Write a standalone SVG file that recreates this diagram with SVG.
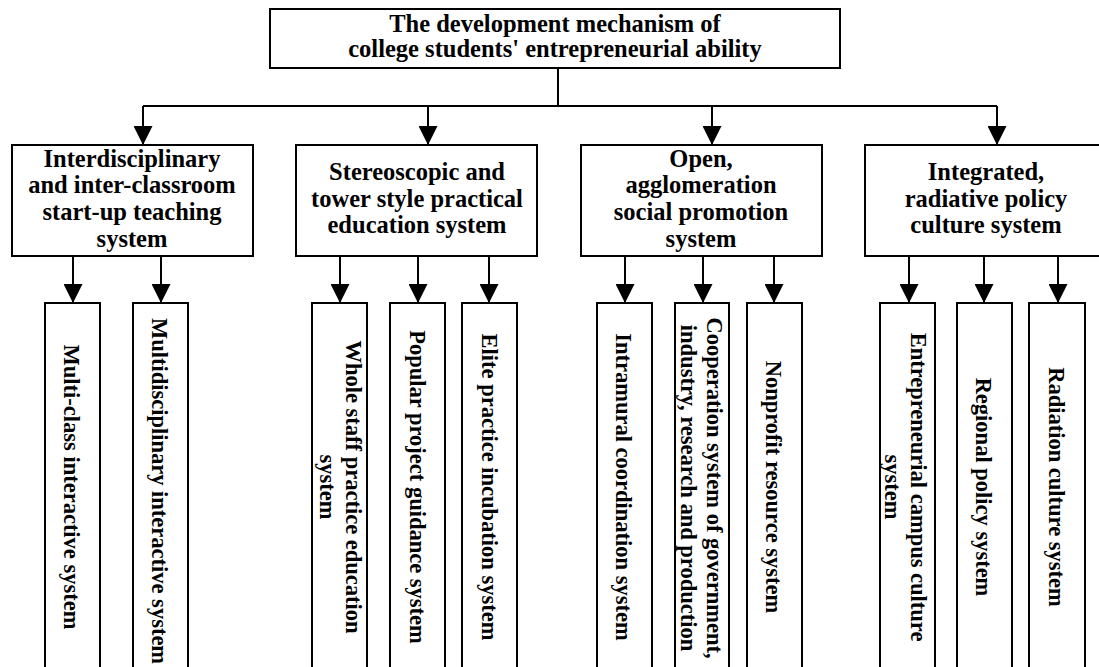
<svg xmlns="http://www.w3.org/2000/svg" width="1099" height="667" viewBox="0 0 1099 667">
<defs>
<style>
.box{fill:#fff;stroke:#000;stroke-width:2}
.t{font-family:"Liberation Serif","Times New Roman",serif;font-weight:bold;font-size:24.5px;fill:#000;text-anchor:middle}
.v{font-family:"Liberation Serif","Times New Roman",serif;font-weight:bold;font-size:22.5px;fill:#000;text-anchor:middle}
.c{fill:none;stroke:#000;stroke-width:2}
</style>
<marker id="ah" markerUnits="userSpaceOnUse" markerWidth="19" markerHeight="19" refX="19" refY="9.5" orient="auto" viewBox="0 0 19 19">
<path d="M0,0 L19,9.5 L0,19 z" fill="#000"/>
</marker>
</defs>
<rect width="1099" height="667" fill="#fff"/>
<g id="connectors">
<path class="c" d="M558,68 V106 M143,106 H997"/>
<path class="c" d="M143,106 V145" marker-end="url(#ah)"/>
<path class="c" d="M428,106 V145" marker-end="url(#ah)"/>
<path class="c" d="M712,106 V145" marker-end="url(#ah)"/>
<path class="c" d="M997,106 V145" marker-end="url(#ah)"/>
<path class="c" d="M73,256 V303" marker-end="url(#ah)"/>
<path class="c" d="M161,256 V303" marker-end="url(#ah)"/>
<path class="c" d="M340,256 V303" marker-end="url(#ah)"/>
<path class="c" d="M418,256 V303" marker-end="url(#ah)"/>
<path class="c" d="M489,256 V303" marker-end="url(#ah)"/>
<path class="c" d="M625,256 V303" marker-end="url(#ah)"/>
<path class="c" d="M703,256 V303" marker-end="url(#ah)"/>
<path class="c" d="M774,256 V303" marker-end="url(#ah)"/>
<path class="c" d="M909,256 V303" marker-end="url(#ah)"/>
<path class="c" d="M984,256 V303" marker-end="url(#ah)"/>
<path class="c" d="M1058,256 V303" marker-end="url(#ah)"/>
</g>
<g id="root">
<rect class="box" x="270" y="9" width="570" height="59"/>
<text class="t" x="555" y="32">The development mechanism of</text>
<text class="t" x="555" y="57">college students' entrepreneurial ability</text>
</g>
<g id="cat1">
<rect class="box" x="12" y="145" width="241" height="111"/>
<text class="t" x="132" y="167">Interdisciplinary</text>
<text class="t" x="132" y="193">and inter-classroom</text>
<text class="t" x="132" y="220">start-up teaching</text>
<text class="t" x="132" y="247">system</text>
</g>
<g id="cat2">
<rect class="box" x="296" y="145" width="241" height="111"/>
<text class="t" x="417" y="180">Stereoscopic and</text>
<text class="t" x="417" y="207">tower style practical</text>
<text class="t" x="417" y="233">education system</text>
</g>
<g id="cat3">
<rect class="box" x="581" y="145" width="241" height="111"/>
<text class="t" x="701" y="167">Open,</text>
<text class="t" x="701" y="193">agglomeration</text>
<text class="t" x="701" y="220">social promotion</text>
<text class="t" x="701" y="247">system</text>
</g>
<g id="cat4">
<rect class="box" x="865" y="145" width="242" height="111"/>
<text class="t" x="986" y="180">Integrated,</text>
<text class="t" x="986" y="207">radiative policy</text>
<text class="t" x="986" y="233">culture system</text>
</g>
<g id="sub1">
<rect class="box" x="45" y="303" width="55" height="380"/>
<text class="v" transform="translate(72,487) rotate(90)" dy="0.35em">Multi-class interactive system</text>
</g>
<g id="sub2">
<rect class="box" x="133" y="303" width="55" height="380"/>
<text class="v" transform="translate(160,491) rotate(90)" dy="0.35em">Multidisciplinary interactive system</text>
</g>
<g id="sub3">
<rect class="box" x="312" y="303" width="55" height="380"/>
<text class="v" transform="translate(341,487) rotate(90)" y="-13" dy="0.35em">Whole staff practice education</text>
<text class="v" transform="translate(341,487) rotate(90)" y="13" dy="0.35em">system</text>
</g>
<g id="sub4">
<rect class="box" x="390" y="303" width="55" height="380"/>
<text class="v" transform="translate(418,487) rotate(90)" dy="0.35em">Popular project guidance system</text>
</g>
<g id="sub5">
<rect class="box" x="462" y="303" width="55" height="380"/>
<text class="v" transform="translate(490,487) rotate(90)" dy="0.35em">Elite practice incubation system</text>
</g>
<g id="sub6">
<rect class="box" x="597" y="303" width="55" height="380"/>
<text class="v" transform="translate(624,487) rotate(90)" dy="0.35em">Intramural coordination system</text>
</g>
<g id="sub7">
<rect class="box" x="675" y="303" width="54" height="380"/>
<text class="v" transform="translate(702,488) rotate(90)" y="-13" dy="0.35em">Cooperation system of government,</text>
<text class="v" transform="translate(702,488) rotate(90)" y="13" dy="0.35em">industry, research and production</text>
</g>
<g id="sub8">
<rect class="box" x="747" y="303" width="55" height="380"/>
<text class="v" transform="translate(774,487) rotate(90)" dy="0.35em">Nonprofit resource system</text>
</g>
<g id="sub9">
<rect class="box" x="880" y="303" width="55" height="380"/>
<text class="v" transform="translate(906,487) rotate(90)" y="-13" dy="0.35em">Entrepreneurial campus culture</text>
<text class="v" transform="translate(906,487) rotate(90)" y="13" dy="0.35em">system</text>
</g>
<g id="sub10">
<rect class="box" x="957" y="303" width="55" height="380"/>
<text class="v" transform="translate(984,487) rotate(90)" dy="0.35em">Regional policy system</text>
</g>
<g id="sub11">
<rect class="box" x="1029" y="303" width="56" height="380"/>
<text class="v" transform="translate(1057,487) rotate(90)" dy="0.35em">Radiation culture system</text>
</g>
</svg>
